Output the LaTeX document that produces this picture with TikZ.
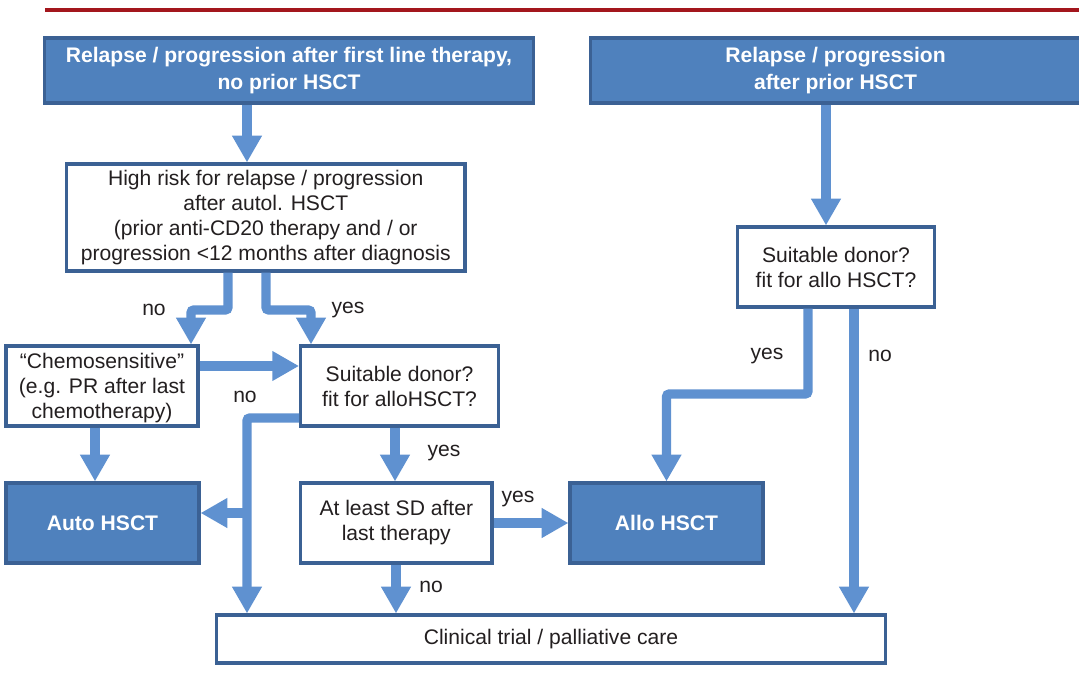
\documentclass[tikz,border=0pt]{standalone}
\usepackage{fontspec}
\setmainfont{Liberation Sans}
\definecolor{BoxBlue}{HTML}{4F81BD}
\definecolor{BoxLine}{HTML}{3B6194}
\definecolor{ArrBlue}{HTML}{5F91D0}
\definecolor{RuleRed}{HTML}{A3161D}
\definecolor{Ink}{HTML}{231F20}
\usetikzlibrary{arrows.meta, positioning}
\tikzset{
  box/.style={
    rectangle, draw=BoxLine, line width=2.2pt, fill=white,
    minimum width=#1, minimum height=2cm,
    align=center, inner sep=2pt, text=Ink,
    font=\fontsize{15}{17.8}\selectfont
  },
  box/.default=4.9cm,
  hbox/.style={box=#1, fill=BoxBlue, text=white,
    font=\fontsize{15}{19}\selectfont\bfseries},
  arr/.style={-{Triangle[length=19pt, width=20pt]}, line width=6.6pt,
    color=ArrBlue, rounded corners=2pt},
  lbl/.style={font=\fontsize{15}{17.5}\selectfont, text=Ink},
}
\begin{document}
\begin{tikzpicture}[x=0.025cm, y=-0.025cm]
\useasboundingbox (0,0) rectangle (1079,695);

% Rule on top
\draw[RuleRed, line width=2.8pt] (45,10) -- (1079,10);

% Entry boxes
\node[hbox=12.2cm, minimum height=1.625cm] at (289,70.5) (relA)
  {Relapse / progression after first line therapy,\\no prior HSCT};
\node[hbox=12.225cm, minimum height=1.625cm] at (835.5,70.5) (relB)
  {Relapse / progression\\after prior HSCT};

% Decision boxes
\node[box=9.96cm, minimum height=2.675cm] at (265.75,217.5) (risk)
  {High risk for relapse / progression\\after autol. HSCT\\
   (prior anti-CD20 therapy and / or\\progression <12 months after diagnosis};
\node[box=4.8cm, text depth=0pt] at (102,386) (chemo)
  {“Chemosensitive”\\(e.g. PR after last\\chemotherapy)};
\node[box=4.95cm] at (399.6,386) (donorA)
  {Suitable donor?\\fit for alloHSCT?};
\node[box=4.785cm] at (396.3,523) (sd)
  {At least SD after\\last therapy};
\node[box=4.935cm] at (836,267) (donorB)
  {Suitable donor?\\fit for allo HSCT?};

% Outcome boxes
\node[hbox=4.825cm] at (102.5,523) (auto) {Auto HSCT};
\node[hbox=4.825cm] at (666.5,523) (allo) {Allo HSCT};
\node[box=16.7cm, minimum height=1.2cm] at (551,639) (care)
  {Clinical trial / palliative care};

% Lanes for the connectors
\coordinate (lA) at (247,0);
\coordinate (lNo) at (228,310);
\coordinate (lChemo) at (191,0);
\coordinate (lYes) at (266,310);
\coordinate (lDonor) at (311,0);
\coordinate (lSens) at (0,366);
\coordinate (lOut) at (247,418);
\coordinate (split) at (247,513);
\coordinate (lB) at (826,0);
\coordinate (lByes) at (808,394);
\coordinate (lBno) at (854,0);

% Left branch
\draw[arr] (relA.south -| lA) -- (risk.north -| lA);
\draw[arr] (risk.south -| lNo) -- (lNo) -- (lNo -| lChemo) -- (chemo.north -| lChemo);
\draw[arr] (risk.south -| lYes) -- (lYes) -- (lYes -| lDonor) -- (donorA.north -| lDonor);
\draw[arr] (chemo.east |- lSens) -- (donorA.west |- lSens);
\draw[arr] (chemo.south -| 95,0) -- (auto.north -| 95,0);
\draw[arr] (donorA.west |- lOut) -- (lOut) -- (care.north -| lOut);
\draw[arr] (split) -- (auto.east |- split);
\draw[arr] (donorA.south -| 395,0) -- (sd.north -| 395,0);
\draw[arr] (sd.east) -- (allo.west);
\draw[arr] (sd.south -| 396,0) -- (care.north -| 396,0);

% Right branch
\draw[arr] (relB.south -| lB) -- (donorB.north -| lB);
\draw[arr] (donorB.south -| lByes) -- (lByes) -- (lByes -| allo.north) -- (allo.north);
\draw[arr] (donorB.south -| lBno) -- (care.north -| lBno);

% Labels
\node[lbl] at (154,310) (noA) {no};
\node[lbl] at (348,310) (yesA) {yes};
\node[lbl] at (245,397) (noB) {no};
\node[lbl] at (444,453) (yesB) {yes};
\node[lbl] at (518,499) (yesC) {yes};
\node[lbl] at (431,587) (noC) {no};
\node[lbl] at (767,356) (yesD) {yes};
\node[lbl] at (880,356) (noD) {no};

\end{tikzpicture}
\end{document}
